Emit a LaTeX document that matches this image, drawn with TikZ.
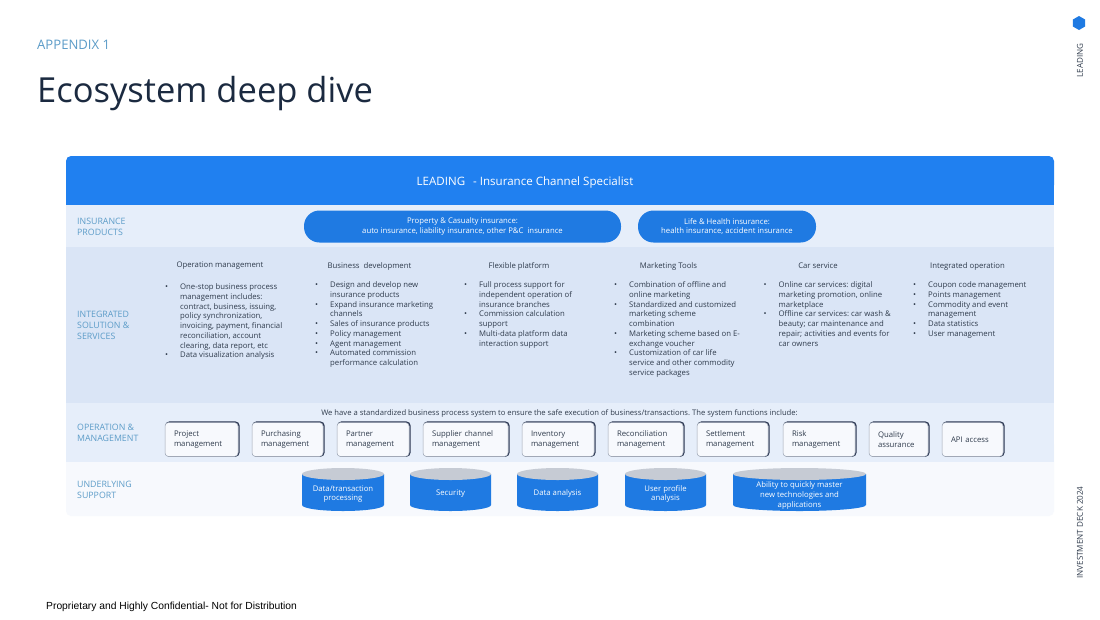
\documentclass[tikz,border=0pt]{standalone}
\usepackage{fontspec}
\setmainfont{Open Sans}
\newfontfamily\footfont{Liberation Sans}
\usetikzlibrary{shapes.geometric}
\definecolor{headblue}{HTML}{2080F0}
\definecolor{pillblue}{HTML}{1F7AE2}
\definecolor{bandone}{HTML}{E6EEFA}
\definecolor{bandtwo}{HTML}{DAE5F6}
\definecolor{bandlow}{HTML}{F7F9FD}
\definecolor{sidelabel}{HTML}{5C9CC8}
\definecolor{bodytext}{HTML}{2F3B4C}
\definecolor{titletext}{HTML}{1B2A40}
\definecolor{boxedge}{HTML}{9AA3B2}
\definecolor{boxdark}{HTML}{2A3550}
\definecolor{cyltop}{HTML}{C6CBD4}
\newcommand{\bul}{\llap{{\fontsize{8}{8}\selectfont\textbullet}\hspace{12pt}}}
\newcommand{\supportcyl}[5]{%
	\fill[pillblue] (#2-#3,474) -- (#2-#3,505) arc[start angle=180,end angle=360,x radius=#3pt,y radius=6pt] -- (#2+#3,474) -- cycle;
	\fill[cyltop] (#2,474) ellipse[x radius=#3pt,y radius=6pt];
	\node[cyltext] (#1) at (#2,#4) {#5};
}
\frenchspacing
\tikzset{
	bodyfont/.style={font=\fontsize{7.75}{9.75}\selectfont},
	sidetext/.style={anchor=west,inner sep=0pt,align=left,text=sidelabel,font=\fontsize{8.8}{11}\selectfont},
	colhead/.style={inner sep=0pt,text=bodytext,bodyfont},
	listtext/.style={anchor=north west,inner sep=0pt,align=left,text=bodytext,bodyfont},
	pillbox/.style={rounded corners=15.5pt,fill=pillblue,text=white,align=center,inner sep=0pt,minimum height=32pt,bodyfont},
	optbox/.style={rounded corners=3.5pt,draw=boxedge,line width=.5pt,fill=bandlow,text=bodytext,align=left,
		inner xsep=9pt,inner ysep=0pt,text width=#1pt-18pt,minimum height=34pt,bodyfont,
		preaction={draw=boxdark,line width=1.3pt,transform canvas={xshift=.9pt,yshift=.4pt}}},
	cyltext/.style={text=white,align=center,inner sep=0pt,bodyfont},
	sidenote/.style={inner sep=0pt,rotate=90,text=bodytext,font=\fontsize{8.1}{9}\selectfont}
}
\begin{document}
\begin{tikzpicture}[x=1pt,y=-1pt]
	\useasboundingbox (0,0) rectangle (1100,619);
	\fill[white] (0,0) rectangle (1100,619);
	% bands
	\fill[bandlow,rounded corners=5pt] (66,440) rectangle (1054,516);
	\fill[bandone] (66,403) rectangle (1054,462);
	\fill[bandtwo] (66,247) rectangle (1054,403);
	\fill[bandone] (66,205) rectangle (1054,247);
	\fill[headblue,rounded corners=5pt] (66,156) rectangle (1054,190);
	\fill[headblue] (66,175) rectangle (1054,205);
	% slide heading
	\node[anchor=west,inner sep=0pt,text=sidelabel,font=\fontsize{13.1}{15}\selectfont] (appendix) at (37,45) {APPENDIX 1};
	\node[anchor=west,inner sep=0pt,text=titletext,font=\fontsize{34.5}{42}\selectfont] (title) at (37,94) {Ecosystem deep dive};
	\node[anchor=west,inner sep=0pt,font=\fontsize{10.3}{13}\footfont] (footer) at (46,607) {Proprietary and Highly Confidential- Not for Distribution};
	\node[regular polygon,regular polygon sides=6,fill=pillblue,inner sep=0pt,minimum size=14pt,shape border rotate=30] (hexmark) at (1079,23) {};
	\node[sidenote] (sideleading) at (1080,60.5) {LEADING};
	\node[sidenote] (sidedeck) at (1080,532.5) {INVESTMENT DECK 2024};
	\node[inner sep=0pt,text=white,font=\fontsize{11.55}{13}\selectfont] (headtext) at (525,182) {LEADING\ \ \hspace{2pt}- Insurance Channel Specialist};
	% row labels
	\node[sidetext] (rowprod) at (77,226.5) {INSURANCE\\PRODUCTS};
	\node[sidetext] (rowsol) at (77,325) {INTEGRATED\\SOLUTION \&\\SERVICES};
	\node[sidetext] (rowop) at (77,433) {OPERATION \&\\MANAGEMENT};
	\node[sidetext] (rowsup) at (77,490) {UNDERLYING\\SUPPORT};
	% products
	\node[pillbox,minimum width=317pt] (pillpc) at (462.5,226.5) {Property \& Casualty insurance:\\auto insurance, liability insurance, other P\&C\ \ insurance};
	\node[pillbox,minimum width=178pt] (pilllife) at (727,226.5) {Life \& Health insurance:\\health insurance, accident insurance};
	% solution columns
	\node[colhead] (headop) at (220,266) {Operation management};
	\node[colhead] (headbiz) at (369.5,266) {Business\ \ development};
	\node[colhead] (headflex) at (519,266) {Flexible platform};
	\node[colhead] (headmkt) at (668.5,266) {Marketing Tools};
	\node[colhead] (headcar) at (818,266) {Car service};
	\node[colhead] (headint) at (967.5,266) {Integrated operation};
	\node[listtext] (listop) at (180,283.5) {\bul One-stop business process\\management includes:\\contract, business, issuing,\\policy synchronization,\\invoicing, payment, financial\\reconciliation, account\\clearing, data report, etc\\\bul Data visualization analysis};
	\node[listtext] (listbiz) at (330,281.5) {\bul Design and develop new\\insurance products\\\bul Expand insurance marketing\\channels\\\bul Sales of insurance products\\\bul Policy management\\\bul Agent management\\\bul Automated commission\\performance calculation};
	\node[listtext] (listflex) at (479,281.5) {\bul Full process support for\\independent operation of\\insurance branches\\\bul Commission calculation\\support\\\bul Multi-data platform data\\interaction support};
	\node[listtext] (listmkt) at (629,281.5) {\bul Combination of offline and\\online marketing\\\bul Standardized and customized\\marketing scheme\\combination\\\bul Marketing scheme based on E-\\exchange voucher\\\bul Customization of car life\\service and other commodity\\service packages};
	\node[listtext] (listcar) at (778.5,281.5) {\bul Online car services: digital\\marketing promotion, online\\marketplace\\\bul Offline car services: car wash \&\\beauty; car maintenance and\\repair; activities and events for\\car owners};
	\node[listtext] (listint) at (928,281.5) {\bul Coupon code management\\\bul Points management\\\bul Commodity and event\\management\\\bul Data statistics\\\bul User management};
	% operation boxes
	\node[colhead,font=\fontsize{7.65}{9.75}\selectfont] (opnote) at (559.5,413.5) {We have a standardized business process system to ensure the safe execution of business/transactions. The system functions include:};
	\node[optbox=73] (boxproject) at (201.5,439.5) {Project\\management};
	\node[optbox=71] (boxpurchase) at (287.5,439.5) {Purchasing\\management};
	\node[optbox=72] (boxpartner) at (373,439.5) {Partner\\management};
	\node[optbox=85] (boxsupplier) at (465.5,439.5) {Supplier channel\\management};
	\node[optbox=72] (boxinventory) at (558,439.5) {Inventory\\management};
	\node[optbox=75] (boxrecon) at (645.5,439.5) {Reconciliation\\management};
	\node[optbox=71] (boxsettle) at (732.5,439.5) {Settlement\\management};
	\node[optbox=72] (boxrisk) at (819,439.5) {Risk\\management};
	\node[optbox=59] (boxquality) at (898.5,439.5) {Quality\\assurance};
	\node[optbox=61] (boxapi) at (972.5,439.5) {API access};
	% support cylinders
	\supportcyl{cyldata}{343}{41}{494}{Data/transaction\\processing}
	\supportcyl{cylsec}{450.5}{40.5}{493.5}{Security}
	\supportcyl{cylana}{557.5}{40.5}{493.5}{Data analysis}
	\supportcyl{cylprofile}{665.5}{40.5}{494}{User profile\\analysis}
	\supportcyl{cylmaster}{799.5}{66.5}{495.5}{Ability to quickly master\\new technologies and\\applications}
\end{tikzpicture}
\end{document}
